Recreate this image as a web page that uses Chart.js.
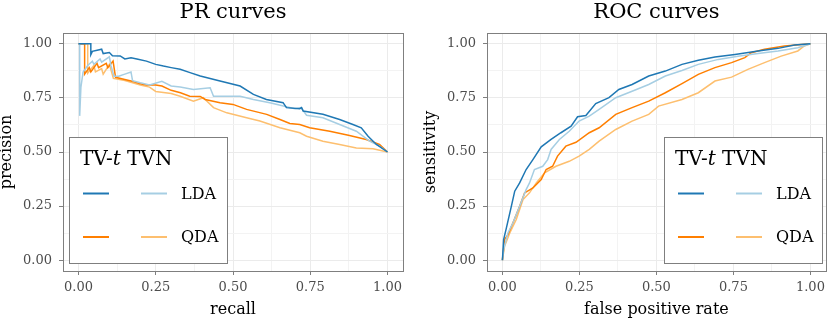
<!DOCTYPE html>
<html>
<head>
<meta charset="utf-8">
<script src="https://cdn.jsdelivr.net/npm/chart.js@4.4.0/dist/chart.umd.min.js"></script>
<style>
  html, body { margin: 0; padding: 0; background: #fff; }
  #wrap { position: relative; width: 830px; height: 321px; }
  canvas { position: absolute; top: 0; }
</style>
</head>
<body>
<div id="wrap">
  <canvas id="pr" width="415" height="321" style="left:0"></canvas>
  <canvas id="roc" width="415" height="321" style="left:415px"></canvas>
</div>
<script>
// series: TV-t LDA, TVN LDA, TV-t QDA, TVN QDA
const seriesNames = ['TV-t LDA', 'TVN LDA', 'TV-t QDA', 'TVN QDA'];
const seriesColors = ['#1f78b4', '#a6cee3', '#ff7f00', '#fdbf6f'];
const legendRows = ['LDA', 'QDA'];

const tickValues = [0, 0.25, 0.5, 0.75, 1];
const tickLabels = ['0.00', '0.25', '0.50', '0.75', '1.00'];

// PR curves (recall, precision)
const prRecTtLda = [0,0.04,0.04,0.045,0.075,0.08,0.10,0.11,0.135,0.15,0.17,0.189,0.22,0.25,0.275,0.30,0.329,0.361,0.394,0.458,0.523,0.566,0.608,0.662,0.673,0.716,0.722,0.727,0.791,0.845,0.888,0.915,0.937,0.964,1];
const prPreTtLda = [1,1,0.95,0.965,0.975,0.955,0.96,0.945,0.944,0.93,0.935,0.93,0.92,0.905,0.897,0.89,0.882,0.867,0.851,0.828,0.805,0.766,0.743,0.728,0.705,0.70,0.705,0.689,0.674,0.65,0.627,0.612,0.573,0.535,0.5];
const prRecTvnLda = [0,0.004,0.004,0.008,0.015,0.03,0.045,0.05,0.07,0.075,0.10,0.105,0.115,0.13,0.15,0.17,0.175,0.20,0.23,0.27,0.30,0.329,0.372,0.426,0.437,0.523,0.566,0.619,0.70,0.72,0.738,0.791,0.845,0.899,0.942,0.974,1];
const prPreTvnLda = [1,1,0.667,0.80,0.87,0.90,0.92,0.905,0.93,0.915,0.94,0.90,0.85,0.85,0.86,0.87,0.83,0.82,0.81,0.827,0.805,0.80,0.789,0.797,0.758,0.758,0.743,0.728,0.70,0.705,0.67,0.658,0.627,0.596,0.55,0.527,0.5];
const prRecTtQda = [0,0.02,0.02,0.035,0.04,0.06,0.065,0.09,0.095,0.112,0.12,0.15,0.18,0.20,0.22,0.25,0.27,0.30,0.33,0.36,0.394,0.41,0.458,0.50,0.544,0.609,0.652,0.684,0.716,0.748,0.813,0.877,0.931,0.974,1];
const prPreTtQda = [1,1,0.86,0.89,0.87,0.91,0.89,0.91,0.89,0.92,0.845,0.835,0.825,0.815,0.81,0.81,0.805,0.785,0.774,0.758,0.757,0.743,0.728,0.72,0.697,0.674,0.65,0.632,0.627,0.612,0.596,0.576,0.558,0.535,0.5];
const prRecTvnQda = [0,0.03,0.03,0.05,0.055,0.075,0.08,0.10,0.113,0.15,0.20,0.23,0.25,0.30,0.329,0.372,0.404,0.437,0.48,0.544,0.587,0.652,0.716,0.738,0.791,0.845,0.899,0.953,1];
const prPreTvnQda = [1,1,0.865,0.90,0.87,0.885,0.86,0.905,0.84,0.83,0.81,0.80,0.78,0.77,0.758,0.735,0.751,0.705,0.681,0.658,0.643,0.612,0.589,0.573,0.55,0.535,0.519,0.515,0.5];

// ROC curves (false positive rate, sensitivity)
const rocFprTtLda = [0,0.004,0.013,0.029,0.04,0.056,0.077,0.099,0.126,0.158,0.19,0.223,0.244,0.271,0.303,0.346,0.378,0.421,0.475,0.529,0.583,0.636,0.69,0.755,0.83,0.895,0.948,1];
const rocSenTtLda = [0,0.095,0.149,0.249,0.319,0.357,0.419,0.465,0.524,0.558,0.589,0.619,0.663,0.669,0.724,0.751,0.789,0.812,0.851,0.874,0.905,0.924,0.939,0.951,0.967,0.979,0.994,1];
const rocFprTvnLda = [0,0.004,0.018,0.034,0.056,0.077,0.088,0.104,0.131,0.147,0.158,0.185,0.217,0.249,0.282,0.314,0.368,0.421,0.475,0.529,0.583,0.636,0.701,0.765,0.83,0.895,0.959,1];
const rocSenTvnLda = [0,0.049,0.126,0.172,0.249,0.326,0.357,0.419,0.434,0.465,0.512,0.558,0.596,0.643,0.666,0.697,0.751,0.781,0.812,0.851,0.877,0.905,0.928,0.943,0.955,0.967,0.982,1];
const rocFprTtQda = [0,0.007,0.018,0.034,0.056,0.072,0.099,0.126,0.142,0.163,0.179,0.206,0.239,0.282,0.314,0.368,0.421,0.475,0.529,0.583,0.636,0.69,0.744,0.787,0.808,0.851,0.916,1];
const rocSenTtQda = [0,0.095,0.118,0.172,0.249,0.311,0.334,0.373,0.419,0.434,0.481,0.527,0.545,0.589,0.612,0.674,0.705,0.735,0.774,0.816,0.859,0.89,0.913,0.936,0.959,0.975,0.99,1];
const rocFprTvnQda = [0,0.007,0.024,0.045,0.067,0.088,0.11,0.137,0.174,0.217,0.249,0.282,0.314,0.368,0.421,0.475,0.507,0.583,0.636,0.69,0.744,0.797,0.851,0.905,0.959,0.98,1];
const rocSenTvnQda = [0,0.064,0.126,0.188,0.28,0.311,0.357,0.404,0.434,0.457,0.481,0.512,0.55,0.604,0.643,0.674,0.712,0.743,0.774,0.828,0.846,0.882,0.913,0.943,0.967,0.99,1];

const SERIF = "'DejaVu Serif', serif";

function pts(xs, ys) {
  return xs.map((x, i) => ({ x: x, y: ys[i] }));
}

function isMajor(v) {
  return tickValues.some(t => Math.abs(t - v) < 1e-9);
}

function datasets(pairs) {
  return pairs.map((p, i) => ({
    label: seriesNames[i],
    data: pts(p[0], p[1]),
    borderColor: seriesColors[i],
    backgroundColor: seriesColors[i],
    borderWidth: 1.5,
    pointRadius: 0,
    tension: 0,
    fill: false
  }));
}

function axis(text, titleFont, titlePad, ticksPad, fit) {
  return {
    type: 'linear',
    min: -0.05,
    max: 1.05,
    ticks: {
      stepSize: 0.125,
      includeBounds: false,
      autoSkip: false,
      maxRotation: 0,
      padding: ticksPad,
      color: '#4d4d4d',
      font: { family: SERIF, size: 13 },
      callback: v => {
        const i = tickValues.findIndex(t => Math.abs(t - v) < 1e-9);
        return i < 0 ? '' : tickLabels[i];
      }
    },
    grid: {
      color: c => (c.tick && isMajor(c.tick.value)) ? '#ebebeb' : '#f3f3f3',
      lineWidth: 1,
      drawTicks: true,
      tickLength: 4,
      tickColor: c => (c.tick && isMajor(c.tick.value)) ? '#7f7f7f' : 'rgba(0,0,0,0)'
    },
    border: { display: false },
    title: {
      display: true,
      text: text,
      color: '#000',
      font: titleFont,
      padding: titlePad
    },
    afterFit: fit
  };
}

// panel border, title and the two-column legend
const panelDeco = {
  id: 'panelDeco',
  beforeDatasetsDraw(chart, args, o) {
    const ctx = chart.ctx, a = chart.chartArea;
    ctx.save();
    ctx.strokeStyle = '#7f7f7f';
    ctx.lineWidth = 1;
    ctx.strokeRect(Math.round(a.left) + 0.5, Math.round(a.top) + 0.5,
      Math.round(a.right - a.left), Math.round(a.bottom - a.top));
    ctx.fillStyle = '#000';
    ctx.font = '21px ' + SERIF;
    ctx.textAlign = 'center';
    ctx.textBaseline = 'alphabetic';
    ctx.fillText(o.title, (a.left + a.right) / 2, 18);
    ctx.restore();
  },
  afterDatasetsDraw(chart, args, o) {
    const ctx = chart.ctx, ds = chart.data.datasets;
    const x = o.x, y = o.y;
    ctx.save();
    ctx.fillStyle = '#fff';
    ctx.fillRect(x, y, o.w, o.h);
    ctx.strokeStyle = '#7f7f7f';
    ctx.lineWidth = 1;
    ctx.strokeRect(x + 0.5, y + 0.5, o.w, o.h);

    ctx.fillStyle = '#000';
    ctx.textAlign = 'left';
    ctx.textBaseline = 'alphabetic';
    let tx = x + 11;
    const ty = y + 28;
    ctx.font = '20px ' + SERIF;
    ctx.fillText('TV-', tx, ty);
    tx += ctx.measureText('TV-').width;
    ctx.font = 'italic 20px ' + SERIF;
    ctx.fillText('t', tx, ty);
    tx += ctx.measureText('t').width;
    ctx.font = '20px ' + SERIF;
    ctx.fillText(' TVN', tx, ty);

    ctx.font = '16px ' + SERIF;
    ctx.textBaseline = 'middle';
    legendRows.forEach((row, r) => {
      const ly = y + 56.5 + r * 43.5;
      for (let c = 0; c < 2; c++) {
        const d = ds[r * 2 + c];
        ctx.strokeStyle = d.borderColor;
        ctx.lineWidth = 2;
        ctx.beginPath();
        ctx.moveTo(x + 14 + c * 58, ly);
        ctx.lineTo(x + 40 + c * 58, ly);
        ctx.stroke();
      }
      ctx.fillStyle = '#000';
      ctx.fillText(row, x + 112, ly + 1);
    });
    ctx.restore();
  }
};

Chart.defaults.font.family = SERIF;

new Chart(document.getElementById('pr'), {
  type: 'line',
  data: {
    datasets: datasets([
      [prRecTtLda, prPreTtLda],
      [prRecTvnLda, prPreTvnLda],
      [prRecTtQda, prPreTtQda],
      [prRecTvnQda, prPreTvnQda]
    ])
  },
  options: {
    responsive: false,
    animation: false,
    devicePixelRatio: 1,
    layout: { padding: { top: 33, left: 0, right: 12, bottom: 0 } },
    plugins: {
      legend: { display: false },
      tooltip: { enabled: false },
      panelDeco: { title: 'PR curves', x: 69, y: 137, w: 158, h: 126 }
    },
    scales: {
      x: axis('recall', { family: SERIF, size: 16, lineHeight: 1.2 }, { top: 0, bottom: 2 }, 5,
        s => { s.height = 50; }),
      y: axis('precision', { family: SERIF, size: 16, lineHeight: 0.85 }, { top: 0, bottom: 0 }, 7,
        s => { s.width = 63; })
    }
  },
  plugins: [panelDeco]
});

new Chart(document.getElementById('roc'), {
  type: 'line',
  data: {
    datasets: datasets([
      [rocFprTtLda, rocSenTtLda],
      [rocFprTvnLda, rocSenTvnLda],
      [rocFprTtQda, rocSenTtQda],
      [rocFprTvnQda, rocSenTvnQda]
    ])
  },
  options: {
    responsive: false,
    animation: false,
    devicePixelRatio: 1,
    layout: { padding: { top: 33, left: 0, right: 2, bottom: 0 } },
    plugins: {
      legend: { display: false },
      tooltip: { enabled: false },
      panelDeco: { title: 'ROC curves', x: 249, y: 137, w: 158, h: 126 }
    },
    scales: {
      x: axis('false positive rate', { family: SERIF, size: 16, lineHeight: 1.2 }, { top: 0, bottom: 2 }, 5,
        s => { s.height = 50; }),
      y: axis('sensitivity', { family: SERIF, size: 16, lineHeight: 0.85 }, { top: 9, bottom: 0 }, 7,
        s => { s.width = 72; })
    }
  },
  plugins: [panelDeco]
});
</script>
</body>
</html>
